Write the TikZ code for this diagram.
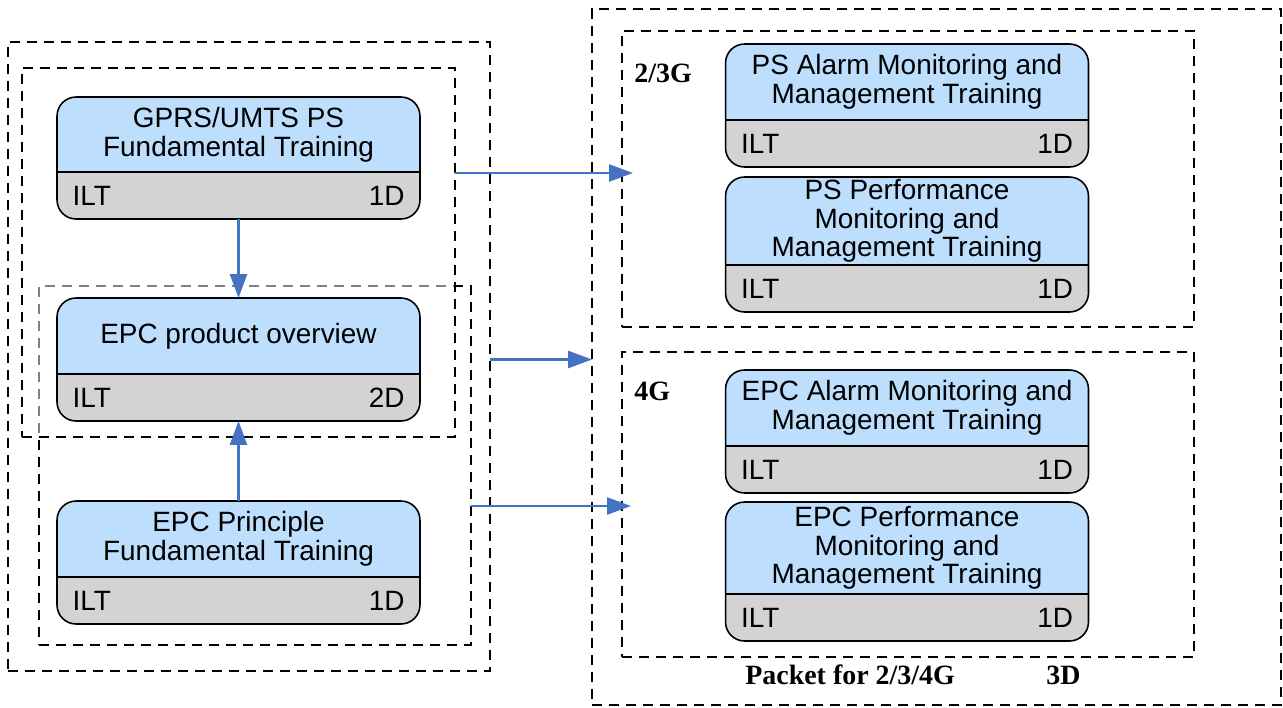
\documentclass[tikz,border=0pt]{standalone}
\usepackage{fontspec}
\setmainfont{Liberation Sans}
\newfontfamily\tagfont{Liberation Serif}
\usepackage{xcolor}
\usepackage{tikz}
\usetikzlibrary{arrows.meta,positioning}

\definecolor{courseblue}{RGB}{189,222,252}
\definecolor{stripgray}{RGB}{211,211,211}
\definecolor{flowblue}{RGB}{68,114,196}

\begin{document}
\begin{tikzpicture}[
  x=0.02cm,
  y=-0.02cm,
  group/.style={draw=black, dash pattern=on 0.2cm off 0.14cm, line width=1.6pt, inner sep=0pt, outer sep=0pt},
  course/.style={
    draw=black,
    line width=0.9pt,
    rounded corners=0.38cm,
    fill=courseblue,
    minimum width=7.26cm,
    inner sep=0pt,
    outer sep=0pt,
    path picture={
      \fill[stripgray, sharp corners] (path picture bounding box.south west) rectangle ([yshift=0.94cm]path picture bounding box.south east);
      \draw[line width=0.9pt, sharp corners] ([yshift=0.94cm]path picture bounding box.south west) -- ([yshift=0.94cm]path picture bounding box.south east);
    }
  },
  title/.style={align=center, font=\fontsize{15.9}{16.3}\selectfont, inner sep=0pt},
  strip/.style={text width=6.64cm, font=\fontsize{15.9}{16.3}\selectfont, inner sep=0pt},
  tag/.style={font=\tagfont\bfseries\fontsize{15.9}{16.3}\selectfont, inner sep=0pt},
  flow/.style={-{Triangle[length=0.48cm, width=0.34cm]}, line width=1.4pt, color=flowblue}
]
  \useasboundingbox (0,0) rectangle (1283,707);

  \node[group, minimum width=9.64cm, minimum height=12.58cm] (leftbox) at (249,356.5) {};
  \node[group, minimum width=8.64cm, minimum height=7.18cm] (lower) at (255,465.5) {};
  \node[group, minimum width=8.66cm, minimum height=7.38cm, fill=white, fill opacity=0.5] (inner) at (238.5,252.5) {};
  \node[group, minimum width=13.78cm, minimum height=13.92cm] (pack) at (936.5,357) {};
  \node[group, minimum width=11.44cm, minimum height=5.92cm] (g23) at (908,179) {};
  \node[group, minimum width=11.44cm, minimum height=6.10cm] (g4) at (908,504.5) {};

  \node[course, minimum height=2.44cm] (gprs) at (238.5,158) {};
  \node[course, minimum height=2.46cm] (epco) at (238.5,359.5) {};
  \node[course, minimum height=2.46cm] (epcp) at (238.5,562.5) {};
  \node[course, minimum height=2.46cm] (psa) at (907,105.5) {};
  \node[course, minimum height=2.70cm] (psp) at (907,244.5) {};
  \node[course, minimum height=2.46cm] (epca) at (907,431.5) {};
  \node[course, minimum height=2.78cm] (epcpm) at (907,571.5) {};

  \node[title] (gprs-t) at ([yshift=0.47cm]gprs.center) {GPRS/UMTS PS\\Fundamental Training};
  \node[title] (epco-t) at ([yshift=0.47cm]epco.center) {EPC product overview};
  \node[title] (epcp-t) at ([yshift=0.47cm]epcp.center) {EPC Principle\\Fundamental Training};
  \node[title] (psa-t) at ([yshift=0.47cm]psa.center) {PS Alarm Monitoring and\\Management Training};
  \node[title] (psp-t) at ([yshift=0.47cm]psp.center) {PS Performance\\Monitoring and\\Management Training};
  \node[title] (epca-t) at ([yshift=0.47cm]epca.center) {EPC Alarm Monitoring and\\Management Training};
  \node[title] (epcpm-t) at ([yshift=0.47cm]epcpm.center) {EPC Performance\\Monitoring and\\Management Training};

  \node[strip] (gprs-s) at ([yshift=0.47cm]gprs.south) {ILT\hfill 1D};
  \node[strip] (epco-s) at ([yshift=0.47cm]epco.south) {ILT\hfill 2D};
  \node[strip] (epcp-s) at ([yshift=0.47cm]epcp.south) {ILT\hfill 1D};
  \node[strip] (psa-s) at ([yshift=0.47cm]psa.south) {ILT\hfill 1D};
  \node[strip] (psp-s) at ([yshift=0.47cm]psp.south) {ILT\hfill 1D};
  \node[strip] (epca-s) at ([yshift=0.47cm]epca.south) {ILT\hfill 1D};
  \node[strip] (epcpm-s) at ([yshift=0.47cm]epcpm.south) {ILT\hfill 1D};

  \node[tag, anchor=base west] (t23) at (634,82) {2/3G};
  \node[tag, anchor=base west] (t4g) at (634,400) {4G};
  \node[tag, anchor=base west] (tpack) at (745,684) {Packet for 2/3/4G};
  \node[tag, anchor=base west] (tdays) at (1046,684) {3D};

  \coordinate (to23) at (633,173);
  \coordinate (to4g) at (631,506);

  \draw[flow] (gprs) -- (epco);
  \draw[flow] (epcp) -- (epco);
  \draw[flow] (inner.east |- to23) -- (to23);
  \draw[flow] (leftbox.east |- epco) -- (pack.west |- epco);
  \draw[flow] (lower.east |- to4g) -- (to4g);
\end{tikzpicture}
\end{document}
